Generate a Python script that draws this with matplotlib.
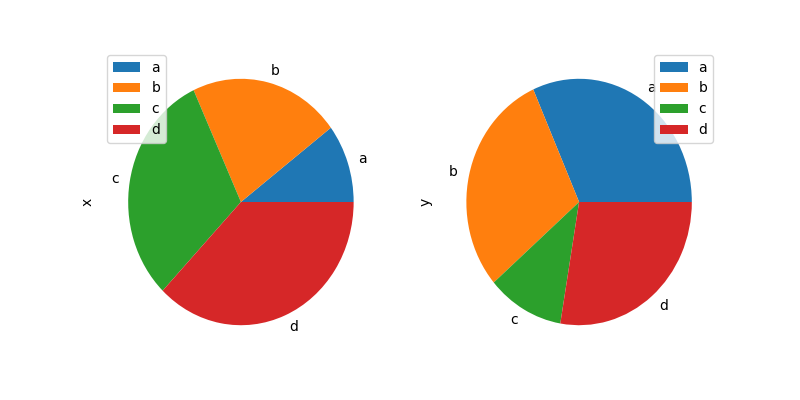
import matplotlib
matplotlib.use("Agg")
import matplotlib.pyplot as plt

labels = ["a", "b", "c", "d"]
x_values = [0.31, 0.65, 0.93, 1.12]
y_values = [0.95, 0.89, 0.33, 0.83]
colors = ["#1f77b4", "#ff7f0e", "#2ca02c", "#d62728"]

fig, axes = plt.subplots(1, 2, figsize=(8, 4), dpi=100)

for ax, vals, name, loc in [(axes[0], x_values, "x", "upper left"),
                            (axes[1], y_values, "y", "upper right")]:
    ax.pie(vals, labels=labels, colors=colors)
    ax.set_aspect("auto")
    ax.set_ylabel(name)
    ax.legend(loc=loc)

fig.savefig("out.png")
